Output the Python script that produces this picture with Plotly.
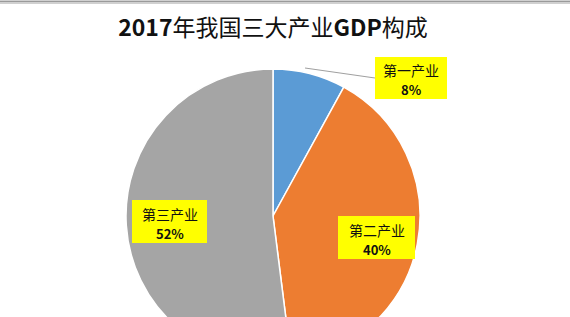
import plotly.graph_objects as go

# ---- data ----
title_parts = [("2017", True), ("年我国三大产业", False), ("GDP", True), ("构成", False)]
categories = ["第一产业", "第二产业", "第三产业"]
shares = [8, 40, 52]  # percent
colors = ["#5B9BD5", "#ED7D31", "#A5A5A5"]

W, H = 570, 380  # figure taller than the 317px window so the pie is cut at the bottom


def px(x):
    return x / W


def py(y):
    return 1 - y / H


# pie: centre (273, 216), radius 147 (page pixels)
cx, cy, r = 273, 216, 147

fig = go.Figure(
    go.Pie(
        labels=categories,
        values=shares,
        sort=False,
        direction="clockwise",
        rotation=0,
        marker=dict(colors=colors, line=dict(color="white", width=1.5)),
        textinfo="none",
        hoverinfo="label+percent",
        showlegend=False,
        domain=dict(x=[px(cx - r), px(cx + r)], y=[py(cy + r), py(cy - r)]),
    )
)

# label boxes (x0, x1, y0, y1) in page pixels
boxes = [(375, 447, 57, 99), (338, 415, 216, 259), (132, 207, 200, 243)]
annotations = []
shapes = [
    dict(type="rect", xref="paper", yref="paper", x0=0, x1=1,
         y0=py(4), y1=1, fillcolor="#D0D0D0", line=dict(width=0), layer="above"),
    dict(type="line", xref="paper", yref="paper", x0=0, x1=1,
         y0=py(1.5), y1=py(1.5), line=dict(color="#9A9A9A", width=1), layer="above"),
    # leader line for the first label
    dict(type="line", xref="paper", yref="paper", x0=px(305), y0=py(68),
         x1=px(375), y1=py(78), line=dict(color="#A0A0A0", width=1.2), layer="above"),
]
for (name, val), (x0, x1, y0, y1) in zip(zip(categories, shares), boxes):
    shapes.append(dict(type="rect", xref="paper", yref="paper",
                       x0=px(x0), x1=px(x1), y0=py(y1), y1=py(y0),
                       fillcolor="#FFFF00", line=dict(width=0), layer="above"))
    xc = (x0 + x1) / 2
    annotations.append(dict(
        xref="paper", yref="paper", x=px(xc), y=py(y0 + 13.5),
        text=name, showarrow=False, xanchor="center", yanchor="middle",
        font=dict(family="Noto Sans CJK SC", size=14, color="#111111"),
    ))
    annotations.append(dict(
        xref="paper", yref="paper", x=px(xc), y=py(y0 + 33),
        text=f"<b>{val}%</b>", showarrow=False, xanchor="center", yanchor="middle",
        font=dict(family="Noto Sans CJK SC", size=13, color="#111111"),
    ))

title_text = "".join(f"<b>{t}</b>" if b else t for t, b in title_parts)

fig.update_layout(
    width=W, height=H,
    margin=dict(l=0, r=0, t=0, b=0),
    paper_bgcolor="white",
    plot_bgcolor="white",
    title=dict(
        text=title_text,
        x=px(273), xanchor="center",
        y=py(28), yanchor="middle",
        font=dict(family="Noto Sans CJK SC", size=23, color="#111111"),
    ),
    annotations=annotations,
    shapes=shapes,
)

fig.write_html(
    "out.html",
    config={"displayModeBar": False},
    post_script="document.body.style.margin='0';document.body.style.overflow='hidden';",
)
